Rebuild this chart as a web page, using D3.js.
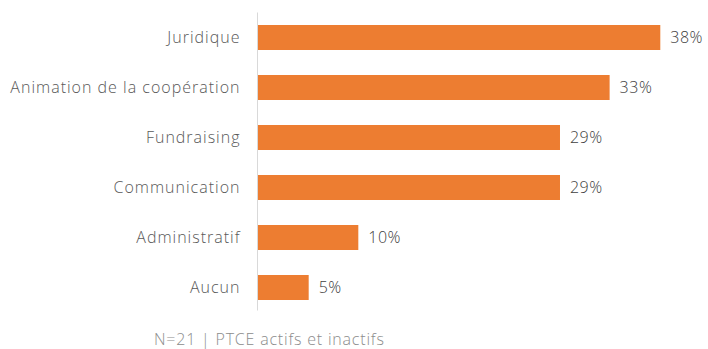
<!DOCTYPE html>
<html>
<head>
<meta charset="utf-8">
<script src="https://cdn.jsdelivr.net/npm/d3@7"></script>
<style>
  html, body { margin: 0; padding: 0; background: #fff; }
  svg { display: block; font-family: "Open Sans", sans-serif; font-weight: 300; }
</style>
</head>
<body>
<svg id="chart" width="708" height="349"></svg>
<script>
// Share of PTCE citing each need (N=21)
const categories = ["Juridique", "Animation de la coopération", "Fundraising", "Communication", "Administratif", "Aucun"];
const shares = [38.1, 33.3, 28.6, 28.6, 9.5, 4.8];
const footnote = "N=21 | PTCE actifs et inactifs";

const svg = d3.select("#chart");
const margin = { left: 258, top: 12.5, bottom: 36.5 };
const height = 349;

const x = d3.scaleLinear().domain([0, 38.1]).range([margin.left, 660.3]);
const y = d3.scaleBand().domain(categories)
  .range([margin.top, height - margin.bottom]).paddingInner(0.5).paddingOuter(0.25);

// Bars
svg.append("g").selectAll("rect").data(categories).join("rect")
  .attr("x", x(0))
  .attr("y", d => y(d))
  .attr("width", (d, i) => x(shares[i]) - x(0))
  .attr("height", y.bandwidth())
  .attr("fill", "#ED7D31");

// Category axis (vertical baseline, no ticks)
const axis = svg.append("g").attr("transform", `translate(${x(0) - 0.5},0)`)
  .call(d3.axisLeft(y).tickSize(0).tickPadding(17));
axis.select(".domain").attr("stroke", "#d9d9d9").attr("d", `M0,${margin.top}V${height - margin.bottom - 2}`);
axis.selectAll("text")
  .attr("fill", "#595959")
  .style("font-size", "16px")
  .style("letter-spacing", "1px")
  .style("font-family", "'Open Sans', sans-serif");

// Value labels
svg.append("g").selectAll("text").data(categories).join("text")
  .attr("x", (d, i) => x(shares[i]) + 10)
  .attr("y", d => y(d) + y.bandwidth() / 2)
  .attr("dy", "0.36em")
  .attr("fill", "#404040")
  .style("font-size", "16px")
  .style("letter-spacing", "0.5px")
  .text((d, i) => Math.round(shares[i]) + "%");

// Footnote
svg.append("text")
  .attr("x", 154)
  .attr("y", 345)
  .attr("fill", "#8c8c8c")
  .style("font-size", "16px")
  .style("letter-spacing", "0.8px")
  .text(footnote);
</script>
</body>
</html>
